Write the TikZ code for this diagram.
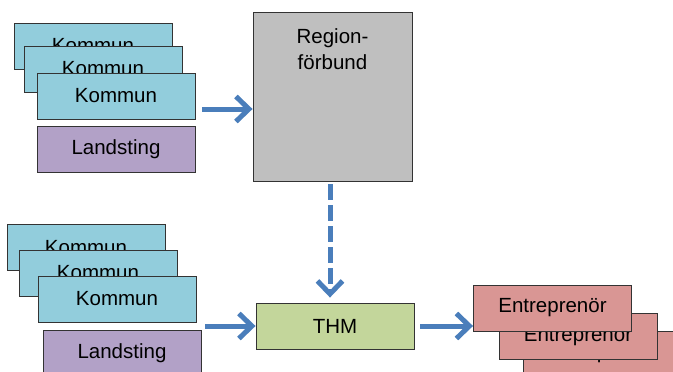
\documentclass[tikz,border=0pt]{standalone}
\usepackage{fontspec}
\setmainfont{Liberation Sans}
\usetikzlibrary{arrows.meta}
\definecolor{kommunfill}{HTML}{92CDDC}
\definecolor{landfill}{HTML}{B2A1C7}
\definecolor{regfill}{HTML}{BFBFBF}
\definecolor{thmfill}{HTML}{C3D69B}
\definecolor{entfill}{HTML}{D99694}
\definecolor{arrowblue}{HTML}{4A7EBB}
\definecolor{edge}{HTML}{333333}
\tikzset{
  boxbase/.style={draw=edge, line width=0.9pt, rectangle, inner sep=0pt,
    minimum width=158pt, minimum height=46pt,
    font=\fontsize{20.5}{26}\selectfont},
  kommun/.style={boxbase, fill=kommunfill},
  landsting/.style={boxbase, fill=landfill},
  thmbox/.style={boxbase, fill=thmfill},
  entbox/.style={boxbase, fill=entfill},
  regbox/.style={boxbase, fill=regfill, minimum width=159pt, minimum height=169pt},
  flow/.style={draw=arrowblue, line width=5pt,
    -{Straight Barb[length=13pt,width=25pt,line width=5pt]}},
  dashflow/.style={flow, dash pattern=on 16pt off 5pt}
}
\begin{document}
\begin{tikzpicture}[x=1pt,y=-1pt]
\useasboundingbox (0,0) rectangle (673,372);
% top group
\node[kommun] (k1) at (93,46) {Kommun};
\node[kommun] (k2) at (103,69) {Kommun};
\node[kommun] (k3) at (116,96) {Kommun};
\node[landsting] (l1) at (116,149) {Landsting};
% region
\node[regbox] (reg) at (332.5,96.5) {};
\node[font=\fontsize{20.5}{26}\selectfont, align=center, anchor=north, inner sep=0pt] (regtext) at (332.5,28) {Region-\\förbund};
% bottom group
\node[kommun] (k4) at (86,247.5) {Kommun};
\node[kommun] (k5) at (98,273) {Kommun};
\node[kommun] (k6) at (117,299) {Kommun};
\node[landsting] (l2) at (122,353) {Landsting};
\node[thmbox] (thm) at (335,326) {THM};
% entreprenor
\node[entbox] (e3) at (602,354) {Entreprenör};
\node[entbox] (e2) at (578,336.5) {Entreprenör};
\node[entbox] (e1) at (552.5,308) {Entreprenör};
% arrows
\coordinate (a1) at (202,109);
\coordinate (a2) at (205,326);
\draw[flow] (a1) -- (reg.west |- a1);
\draw[flow] (a2) -- (thm.west |- a2);
\draw[flow, shorten <=6pt] (thm.east) -- (e1.west |- thm.east);
\draw[dashflow, shorten <=3pt, shorten >=5pt] ([xshift=-2.5pt]reg.south) -- ([xshift=-2.5pt]reg.south |- thm.north);
\end{tikzpicture}
\end{document}
